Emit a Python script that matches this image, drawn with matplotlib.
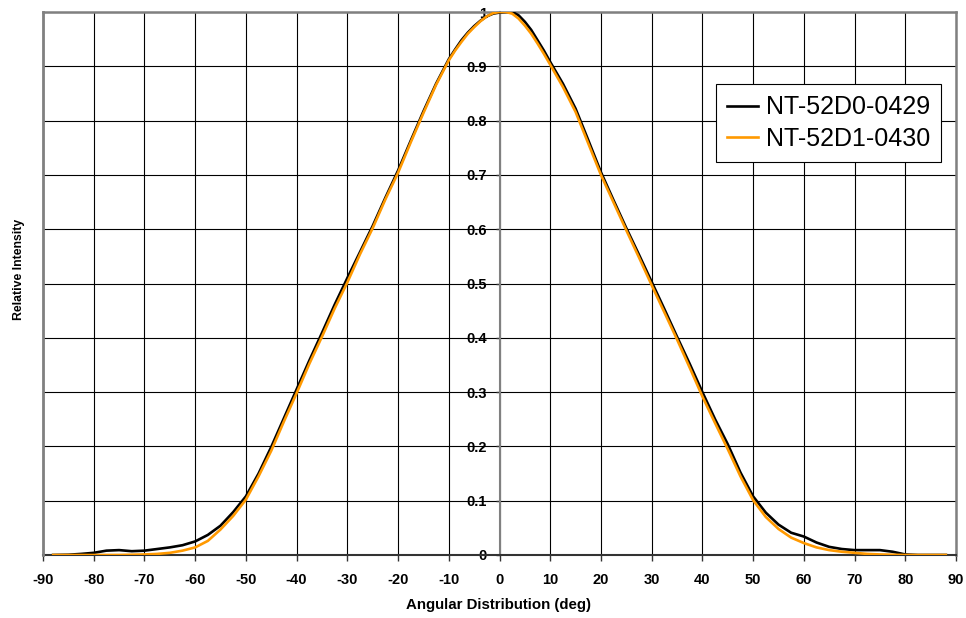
import numpy as np
import matplotlib
matplotlib.use("Agg")
import matplotlib.pyplot as plt

plt.rcParams["font.family"] = ["Liberation Sans", "DejaVu Sans"]

# -------- DATA --------
angle = [-88, -85, -82.5, -80, -77.5, -75, -72.5, -70, -67.5, -65, -62.5, -60,
         -57.5, -55, -52.5, -50, -47.5, -45, -42.5, -40, -37.5, -35, -32.5, -30,
         -27.5, -25, -22.5, -20, -17.5, -15, -12.5, -10, -8.75, -7.5, -6.25, -5,
         -3.75, -2.5, -1.25, 0, 1.25, 2.5, 3.75, 5, 6.25, 7.5, 8.75, 10,
         12.5, 15, 17.5, 20, 22.5, 25, 27.5, 30,
         32.5, 35, 37.5, 40, 42.5, 45, 47.5, 50, 52.5, 55, 57.5, 60,
         62.5, 65, 67.5, 70, 72.5, 75, 77.5, 80, 82.5, 85, 88]

nt_52d0_0429 = [0, 0.0005, 0.002, 0.004, 0.008, 0.009, 0.007, 0.008, 0.011, 0.014, 0.018, 0.025,
                0.037, 0.054, 0.079, 0.108, 0.150, 0.199, 0.252, 0.305, 0.358, 0.409, 0.461, 0.510,
                0.558, 0.606, 0.658, 0.708, 0.763, 0.817, 0.868, 0.913, 0.931, 0.948, 0.962, 0.974,
                0.984, 0.992, 0.997, 0.999, 1.0, 1.0, 0.994, 0.982, 0.967, 0.948, 0.929, 0.908,
                0.868, 0.822, 0.764, 0.705, 0.653, 0.602, 0.553, 0.503,
                0.453, 0.402, 0.352, 0.300, 0.250, 0.204, 0.152, 0.108, 0.078, 0.056, 0.041, 0.034,
                0.023, 0.015, 0.011, 0.009, 0.009, 0.009, 0.006, 0.001, 0, 0, 0]

nt_52d1_0430 = [0, 0, 0, 0, 0, 0, 0.0005, 0.001, 0.002, 0.004, 0.008, 0.014,
                0.026, 0.047, 0.072, 0.102, 0.145, 0.192, 0.246, 0.298, 0.352, 0.402, 0.454, 0.502,
                0.554, 0.602, 0.655, 0.704, 0.760, 0.814, 0.866, 0.911, 0.929, 0.945, 0.960, 0.972,
                0.983, 0.992, 0.998, 1.0, 1.0, 0.997, 0.988, 0.975, 0.960, 0.942, 0.923, 0.903,
                0.862, 0.816, 0.758, 0.700, 0.649, 0.598, 0.548, 0.497,
                0.447, 0.397, 0.345, 0.292, 0.243, 0.195, 0.145, 0.101, 0.070, 0.048, 0.032, 0.022,
                0.014, 0.009, 0.006, 0.004, 0.002, 0.001, 0.0005, 0, 0, 0, 0]

labels = ["NT-52D0-0429", "NT-52D1-0430"]
xticks = list(range(-90, 91, 10))
yticks = [0, 0.1, 0.2, 0.3, 0.4, 0.5, 0.6, 0.7, 0.8, 0.9, 1]
ytick_labels = ["0", "0.1", "0.2", "0.3", "0.4", "0.5", "0.6", "0.7", "0.8", "0.9", "1"]

# -------- PLOTTING --------
fig = plt.figure(figsize=(9.66, 6.18), dpi=100)
ax = fig.add_axes([43 / 966, 63 / 618, 913 / 966, 543 / 618])

ax.plot(angle, nt_52d0_0429, color="black", lw=1.9, label=labels[0], zorder=3)
ax.plot(angle, nt_52d1_0430, color="#FF9900", lw=1.9, label=labels[1], zorder=3.1)

# y axis sits at 0 deg (set before ticks, it resets them)
ax.spines["left"].set_position(("data", 0))
ax.spines["left"].set_color("#808080")
ax.spines["left"].set_linewidth(1.5)
ax.spines["left"].set_zorder(2.5)
for s in ["top", "right"]:
    ax.spines[s].set_color("#808080")
    ax.spines[s].set_linewidth(1.8)
ax.spines["bottom"].set_color("#333333")
ax.spines["bottom"].set_linewidth(1.5)
ax.axvline(-90, color="#808080", lw=2.0, zorder=2.6, clip_on=False)

ax.set_xlim(-90, 90)
ax.set_ylim(0, 1)
ax.set_xticks(xticks)
ax.set_xticklabels([str(t) for t in xticks], fontsize=10.5, fontweight="bold")
ax.set_yticks(yticks)
ax.set_yticklabels(ytick_labels, fontsize=10.5, fontweight="bold")

ax.grid(True, color="black", lw=0.8)
ax.set_axisbelow(True)

ax.tick_params(axis="x", direction="out", length=4, width=1, color="#333333", pad=9)
ax.tick_params(axis="y", direction="out", length=3, width=1, color="#333333", pad=6)

fig.text(19 / 966, 1 - 269 / 618, "Relative Intensity", rotation=90,
         ha="center", va="center", fontsize=8.8, fontweight="bold")
fig.text(499 / 966, 1 - 605 / 618, "Angular Distribution (deg)",
         ha="center", va="center", fontsize=10.8, fontweight="bold")

leg = ax.legend(loc="upper right", bbox_to_anchor=(941 / 966, 1 - 84 / 618),
                bbox_transform=fig.transFigure, borderaxespad=0, fontsize=18,
                fancybox=False, edgecolor="black", framealpha=1, handlelength=1.25,
                handletextpad=0.3, borderpad=0.45, labelspacing=0.3)
leg.get_frame().set_linewidth(0.8)
leg.set_zorder(5)

fig.savefig("out.png", dpi=100)
